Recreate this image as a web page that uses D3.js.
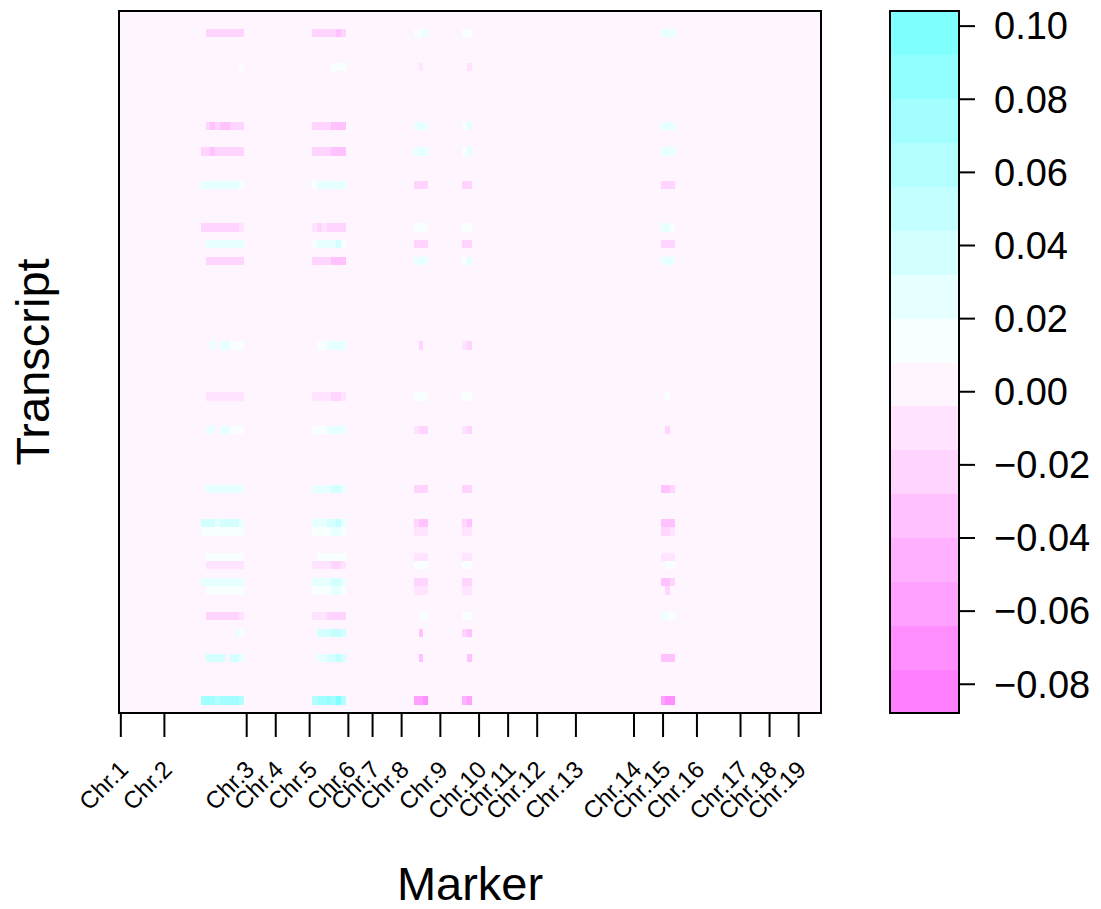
<!DOCTYPE html>
<html>
<head>
<meta charset="utf-8">
<script src="https://cdn.jsdelivr.net/npm/d3@7"></script>
<style>
  body { margin: 0; background: #ffffff; }
  svg text { font-family: "Liberation Sans", Arial, Helvetica, sans-serif; fill: #000; }
</style>
</head>
<body>
<svg id="chart" width="1101" height="909"></svg>
<script>
// ---- data -------------------------------------------------------------
const nMarkers = 145;
const nTranscripts = 83;

const chromosomeNames = ["Chr.1", "Chr.2", "Chr.3", "Chr.4", "Chr.5", "Chr.6", "Chr.7",
  "Chr.8", "Chr.9", "Chr.10", "Chr.11", "Chr.12", "Chr.13", "Chr.14", "Chr.15",
  "Chr.16", "Chr.17", "Chr.18", "Chr.19"];
const chromosomeTickMarkers = [1, 10, 27, 33, 40, 48, 53, 59, 67, 75, 81, 87, 95,
  107, 113, 120, 129, 135, 141];

// colour key
const keyRange = [-0.088, 0.104];
const keyLevels = 16;
const keyTicks = [-0.08, -0.06, -0.04, -0.02, 0.00, 0.02, 0.04, 0.06, 0.08, 0.10];

// marker effects, one array per block of adjacent markers:
// [transcript, [effect at first marker, next marker, ...]]; unlisted cells are 0
const blockAFirstMarker = 18;
const blockAEffects = [
  [3,  [0, -0.022, -0.022, -0.022, -0.022, -0.022, -0.022, -0.022, -0.022]],
  [7,  [0, 0, 0, 0, 0, 0, 0, 0, 0.014]],
  [14, [0, -0.022, -0.034, -0.022, -0.034, -0.034, -0.022, -0.022, -0.022]],
  [17, [-0.022, -0.022, -0.034, -0.022, -0.022, -0.022, -0.022, -0.022, -0.022]],
  [21, [0.026, 0.026, 0.026, 0.026, 0.026, 0.026, 0.026, 0.026, 0.014]],
  [26, [-0.022, -0.022, -0.022, -0.022, -0.022, -0.022, -0.022, -0.022, -0.010]],
  [28, [0, 0.026, 0.026, 0.026, 0.026, 0.026, 0.026, 0.026, 0.026]],
  [30, [0, -0.022, -0.022, -0.022, -0.022, -0.022, -0.022, -0.022, -0.022]],
  [40, [0, 0, 0.026, 0, 0.026, 0.026, 0.014, 0.014, 0.014]],
  [46, [0, -0.010, -0.010, -0.010, -0.010, -0.010, -0.010, -0.010, -0.010]],
  [50, [0, 0.026, 0.026, 0, 0.026, 0.026, 0.014, 0.014, 0.014]],
  [57, [0, 0.026, 0.026, 0.026, 0.026, 0.026, 0.026, 0.026, 0.026]],
  [61, [0.038, 0.038, 0.038, 0.026, 0.038, 0.038, 0.038, 0.038, 0.026]],
  [62, [0.014, 0.014, 0.014, 0.014, 0.014, 0.014, 0.014, 0.014, 0.014]],
  [65, [0, 0.014, 0.014, 0.014, 0.014, 0.014, 0.014, 0.014, 0.014]],
  [66, [0, -0.010, -0.010, -0.010, -0.010, -0.010, -0.010, -0.010, -0.010]],
  [68, [0.026, 0.026, 0.026, 0.026, 0.026, 0.026, 0.026, 0.026, 0.026]],
  [69, [0, 0.014, 0.014, 0.014, 0.014, 0.014, 0.014, 0.014, 0.014]],
  [72, [0, -0.022, -0.022, -0.022, -0.022, -0.022, -0.022, -0.022, -0.010]],
  [74, [0, 0, 0, 0, 0, 0, 0, 0.026, 0.014]],
  [77, [0, 0.038, 0.038, 0.038, 0.038, 0, 0.038, 0.038, 0.026]],
  [82, [0.074, 0.074, 0.074, 0.062, 0.074, 0.074, 0.074, 0.074, 0.062]]
];

const blockBFirstMarker = 41;
const blockBEffects = [
  [3,  [-0.022, -0.022, -0.022, -0.022, -0.022, -0.034, -0.022]],
  [7,  [0, 0, 0, 0, 0.014, 0.014, 0.014]],
  [14, [-0.022, -0.022, -0.022, -0.022, -0.034, -0.034, -0.034]],
  [17, [-0.022, -0.022, -0.022, -0.022, -0.034, -0.034, -0.034]],
  [21, [0.014, 0.026, 0.026, 0.026, 0.026, 0.026, 0.026]],
  [26, [-0.010, -0.022, -0.010, -0.022, -0.022, -0.022, -0.022]],
  [28, [0.014, 0.026, 0.026, 0.026, 0.026, 0.038, 0.014]],
  [30, [-0.022, -0.022, -0.022, -0.022, -0.034, -0.034, -0.034]],
  [40, [0, 0.014, 0.014, 0.026, 0.026, 0.026, 0.026]],
  [46, [-0.010, -0.010, -0.010, -0.010, -0.022, -0.022, -0.010]],
  [50, [0.014, 0.014, 0.014, 0.026, 0.026, 0.026, 0.026]],
  [57, [0.026, 0.026, 0.026, 0.026, 0.038, 0.038, 0.026]],
  [61, [0.026, 0.026, 0.026, 0.038, 0.038, 0.050, 0.026]],
  [62, [0.014, 0.014, 0.014, 0.014, 0.026, 0.026, 0.014]],
  [65, [0, 0.014, 0.014, 0.014, 0.014, 0.014, 0.014]],
  [66, [-0.010, -0.010, -0.010, -0.010, -0.022, -0.022, -0.010]],
  [68, [0.026, 0.026, 0.026, 0.026, 0.038, 0.038, 0.026]],
  [69, [0.014, 0.014, 0.014, 0.014, 0.026, 0.026, 0.014]],
  [72, [-0.010, -0.010, -0.010, -0.022, -0.022, -0.022, -0.022]],
  [74, [0, 0.038, 0.038, 0.038, 0.050, 0.050, 0.038]],
  [77, [0, 0.026, 0.026, 0.038, 0.038, 0.050, 0.038]],
  [82, [0.062, 0.074, 0.074, 0.086, 0.074, 0.098, 0.062]]
];

const blockCFirstMarker = 62;
const blockCEffects = [
  [3,  [0.014, 0.014, 0.026]],
  [7,  [0, -0.010, 0]],
  [14, [0.026, 0.026, 0.026]],
  [17, [0.026, 0.026, 0.026]],
  [21, [-0.022, -0.022, -0.022]],
  [26, [0.014, 0.014, 0.014]],
  [28, [-0.022, -0.022, -0.022]],
  [30, [0.026, 0.026, 0.026]],
  [40, [0, -0.022, 0]],
  [46, [0.014, 0.014, 0.014]],
  [50, [-0.010, -0.022, -0.022]],
  [57, [-0.022, -0.022, -0.022]],
  [61, [-0.022, -0.034, -0.034]],
  [62, [-0.010, -0.010, -0.010]],
  [65, [-0.010, -0.010, -0.010]],
  [66, [0.014, 0.014, 0.014]],
  [68, [-0.022, -0.022, -0.022]],
  [69, [-0.010, -0.010, -0.010]],
  [72, [0, 0.014, 0.014]],
  [74, [0, -0.034, 0]],
  [77, [0, -0.034, 0]],
  [82, [-0.058, -0.058, -0.070]]
];

const blockDFirstMarker = 72;
const blockDEffects = [
  [3,  [0.014, 0.014]],
  [7,  [0, -0.010]],
  [14, [0.014, 0.026]],
  [17, [0.014, 0.026]],
  [21, [-0.022, -0.022]],
  [26, [0.014, 0.014]],
  [28, [-0.022, -0.022]],
  [30, [0.014, 0.026]],
  [40, [-0.010, -0.022]],
  [46, [0.014, 0.014]],
  [50, [-0.010, -0.022]],
  [57, [-0.022, -0.022]],
  [61, [-0.022, -0.034]],
  [62, [-0.010, -0.010]],
  [65, [-0.010, -0.010]],
  [66, [0.014, 0.014]],
  [68, [-0.022, -0.022]],
  [69, [-0.010, -0.010]],
  [72, [0.014, 0.014]],
  [74, [-0.022, -0.034]],
  [77, [0, -0.034]],
  [82, [-0.046, -0.058]]
];

const blockEFirstMarker = 113;
const blockEEffects = [
  [3,  [0.026, 0.026, 0.026]],
  [14, [0.026, 0.026, 0.026]],
  [17, [0.026, 0.026, 0.026]],
  [21, [-0.022, -0.022, -0.022]],
  [26, [0.026, 0.026, 0.014]],
  [28, [-0.022, -0.022, -0.022]],
  [30, [0.026, 0.026, 0.026]],
  [46, [0, 0.014, 0]],
  [50, [0, -0.022, 0]],
  [57, [-0.034, -0.034, -0.022]],
  [61, [-0.034, -0.034, -0.034]],
  [62, [-0.022, -0.022, -0.010]],
  [65, [-0.010, -0.010, -0.010]],
  [66, [0, 0.014, 0.014]],
  [68, [-0.034, -0.034, -0.022]],
  [69, [0, -0.022, 0]],
  [72, [0.026, 0.014, 0.014]],
  [77, [-0.034, -0.034, -0.034]],
  [82, [-0.058, -0.070, -0.070]]
];

// ---- colours: magenta -> white -> cyan ramp, sampled at 16 levels ------
function regionRamp(n) {
  const k = n / 2, out = [];
  const hex = v => Math.round(v * 255).toString(16).padStart(2, "0");
  // magenta half, saturation 0.5 down to 0.01
  for (let i = 0; i < k; i++) {
    const s = 0.5 - i * (0.5 - 0.5 / k) / (k - 1);
    out.push("#ff" + hex(1 - s) + "ff");
  }
  // cyan half, saturation 0.01 up to 0.5
  for (let i = 1; i <= k; i++) {
    const s = i * 0.5 / k;
    out.push("#" + hex(1 - s) + "ffff");
  }
  return out;
}
const ramp = regionRamp(100);
const levelColours = d3.range(keyLevels).map(i =>
  ramp[Math.floor(1 + i * 99 / (keyLevels - 1)) - 1]);
const colour = d3.scaleQuantize().domain(keyRange).range(levelColours);

// ---- assemble cell grid ----------------------------------------------
const effects = new Map();
[[blockAFirstMarker, blockAEffects], [blockBFirstMarker, blockBEffects],
 [blockCFirstMarker, blockCEffects], [blockDFirstMarker, blockDEffects],
 [blockEFirstMarker, blockEEffects]].forEach(([first, rows]) => {
  rows.forEach(([t, vals]) => vals.forEach((v, j) => effects.set(t + "|" + (first + j), v)));
});
const transcripts = d3.range(1, nTranscripts + 1);
const markers = d3.range(1, nMarkers + 1);
const cells = [];
transcripts.forEach(t => markers.forEach(m =>
  cells.push({ t, m, v: effects.get(t + "|" + m) ?? 0 })));

// ---- layout -----------------------------------------------------------
const svg = d3.select("#chart");
const panel = { left: 119, top: 11, right: 821, bottom: 713 };

const x = d3.scaleBand().domain(markers).range([118.4, 820.4]).paddingInner(0).paddingOuter(0);
const y = d3.scaleBand().domain(transcripts).range([12, 713]).paddingInner(0).paddingOuter(0);

svg.append("clipPath").attr("id", "panelClip")
  .append("rect")
  .attr("x", panel.left).attr("y", panel.top)
  .attr("width", panel.right - panel.left).attr("height", panel.bottom - panel.top);

svg.append("g").attr("clip-path", "url(#panelClip)")
  .attr("shape-rendering", "crispEdges")
  .selectAll("rect").data(cells).join("rect")
  .attr("x", d => x(d.m))
  .attr("y", d => y(d.t))
  .attr("width", x.bandwidth() + 0.6)
  .attr("height", y.bandwidth() + 0.6)
  .attr("fill", d => colour(d.v));

svg.append("rect")
  .attr("x", panel.left).attr("y", panel.top)
  .attr("width", panel.right - panel.left).attr("height", panel.bottom - panel.top)
  .attr("fill", "none").attr("stroke", "#000").attr("stroke-width", 2);

// bottom axis with chromosome labels
const chromName = new Map(chromosomeTickMarkers.map((m, i) => [m, chromosomeNames[i]]));
const xAxis = svg.append("g")
  .attr("transform", `translate(0,${panel.bottom})`)
  .call(d3.axisBottom(x).tickValues(chromosomeTickMarkers)
    .tickSize(24).tickSizeOuter(0).tickFormat(m => chromName.get(m)));
xAxis.select(".domain").remove();
xAxis.selectAll(".tick line").attr("stroke", "#000").attr("stroke-width", 2);
xAxis.selectAll(".tick text")
  .attr("x", 0).attr("y", 0).attr("dy", "0.35em")
  .attr("transform", "translate(3,52) rotate(-45)")
  .attr("text-anchor", "end")
  .style("font-size", "24px")
  .style("font-family", "'Liberation Sans', Arial, sans-serif");

// axis titles
svg.append("text")
  .attr("x", (panel.left + panel.right) / 2).attr("y", 900)
  .attr("text-anchor", "middle").style("font-size", "47px")
  .text("Marker");
svg.append("text")
  .attr("transform", `translate(49,${(panel.top + panel.bottom) / 2}) rotate(-90)`)
  .attr("text-anchor", "middle").style("font-size", "47px")
  .text("Transcript");

// ---- colour key -------------------------------------------------------
const key = { left: 890, right: 959 };
const yKey = d3.scaleLinear().domain(keyRange).range([713, 11]);
const step = (keyRange[1] - keyRange[0]) / keyLevels;
const keyBreaks = d3.range(keyLevels).map(i => keyRange[0] + i * step);

svg.append("g").attr("shape-rendering", "crispEdges")
  .selectAll("rect").data(keyBreaks).join("rect")
  .attr("x", key.left)
  .attr("y", d => yKey(d + step))
  .attr("width", key.right - key.left)
  .attr("height", d => yKey(d) - yKey(d + step) + 0.5)
  .attr("fill", d => colour(d + step / 2));

svg.append("rect")
  .attr("x", key.left).attr("y", yKey(keyRange[1]))
  .attr("width", key.right - key.left)
  .attr("height", yKey(keyRange[0]) - yKey(keyRange[1]))
  .attr("fill", "none").attr("stroke", "#000").attr("stroke-width", 2);

const keyAxis = svg.append("g")
  .attr("transform", `translate(${key.right},0)`)
  .call(d3.axisRight(yKey).tickValues(keyTicks).tickSize(16).tickFormat(d3.format(".2f")));
keyAxis.select(".domain").remove();
keyAxis.selectAll(".tick line").attr("stroke", "#000").attr("stroke-width", 2);
keyAxis.selectAll(".tick text")
  .attr("x", 35).attr("dy", "0.35em")
  .style("font-size", "38px")
  .style("font-family", "'Liberation Sans', Arial, sans-serif");
</script>
</body>
</html>
